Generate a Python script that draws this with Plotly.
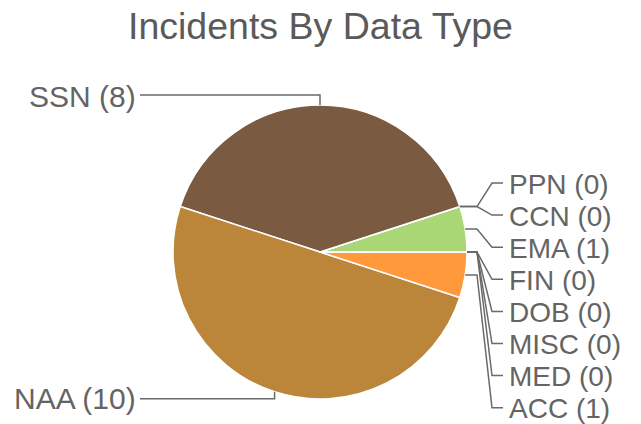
import math
import plotly.graph_objects as go

# ---- data ----
categories = ["EMA", "PPN", "CCN", "SSN", "NAA", "ACC", "FIN", "DOB", "MISC", "MED"]
values = [1, 0, 0, 8, 10, 1, 0, 0, 0, 0]
slice_colors = ["#A9D776", "#A9D776", "#A9D776", "#7A5A41", "#BB863A",
                "#FF993B", "#FF993B", "#FF993B", "#FF993B", "#FF993B"]
title_text = "Incidents By Data Type"

# ---- layout constants (pixels) ----
W, H = 641, 424
CX, CY, R = 320, 252, 147
LINE_COLOR = "#6a6a6a"
TEXT_COLOR = "#646464"
FONT = "Liberation Sans, Arial, sans-serif"
RIGHT_TOP, RIGHT_STEP = 183, 32.1
ELBOW_X, SLANT_X, TICK_X, RLABEL_X = 477, 492, 503, 507
LEFT_END_X, LLABEL_X = 140, 138


def px(x):
    return x / W


def py(y):
    return 1 - y / H


total = sum(values)
# plotly counterclockwise pies end the first slice at the rotation angle;
# shift so the first slice starts at 3 o'clock
rotation = 90 - values[0] / total * 360.0

fig = go.Figure()
fig.add_trace(go.Pie(
    labels=categories, values=values, sort=False,
    direction="counterclockwise", rotation=rotation,
    marker=dict(colors=slice_colors, line=dict(color="white", width=1.5)),
    textinfo="none", hoverinfo="label+value",
    domain=dict(x=[px(CX - R), px(CX + R)], y=[py(CY + R), py(CY - R)]),
    showlegend=False,
))

# slice mid angles (math angle, counter-clockwise from 3 o'clock)
start = 0.0
mids = []
for v in values:
    span = v / total * 360.0
    mids.append(start + span / 2)
    start += span

right, left = [], []
for name, v, a in zip(categories, values, mids):
    ar = math.radians(a)
    p = (CX + R * math.cos(ar), CY - R * math.sin(ar))
    (right if math.cos(ar) > 1e-9 else left).append((name, v, a, p))


def right_key(item):
    a = item[2] % 360
    return -(a if a <= 180 else a - 360)


right.sort(key=right_key)
shapes = []
annotations = []
for i, (name, v, a, p) in enumerate(right):
    ly = RIGHT_TOP + i * RIGHT_STEP
    path = (f"M {px(p[0])},{py(p[1])} L {px(ELBOW_X)},{py(p[1])} "
            f"L {px(SLANT_X)},{py(ly)} L {px(TICK_X)},{py(ly)}")
    shapes.append(dict(type="path", xref="paper", yref="paper", path=path,
                       line=dict(color=LINE_COLOR, width=1.5)))
    annotations.append(dict(x=px(RLABEL_X), y=py(ly + 1), xref="paper", yref="paper",
                            text=f"{name} ({v})", showarrow=False,
                            xanchor="left", yanchor="middle",
                            font=dict(size=28, color=TEXT_COLOR, family=FONT)))

for name, v, a, p in left:
    upper = math.sin(math.radians(a)) > 0
    ly = p[1] - 10 if upper else p[1] + 7
    path = f"M {px(p[0])},{py(p[1])} L {px(p[0])},{py(ly)} L {px(LEFT_END_X)},{py(ly)}"
    shapes.append(dict(type="path", xref="paper", yref="paper", path=path,
                       line=dict(color=LINE_COLOR, width=1.5)))
    annotations.append(dict(x=px(LLABEL_X), y=py(ly + (2 if upper else 0)), xref="paper",
                            yref="paper", text=f"{name} ({v})", showarrow=False,
                            xanchor="right", yanchor="middle",
                            font=dict(size=30, color=TEXT_COLOR, family=FONT)))

annotations.append(dict(x=px(320), y=py(26), xref="paper", yref="paper",
                        text=title_text, showarrow=False,
                        xanchor="center", yanchor="middle",
                        font=dict(size=37.5, color="#5a5a5a", family=FONT)))

fig.update_layout(
    width=W, height=H, margin=dict(l=0, r=0, t=0, b=0),
    paper_bgcolor="white", plot_bgcolor="white",
    shapes=shapes, annotations=annotations,
)
fig.write_html("out.html", config={"displayModeBar": False},
               post_script="document.body.style.margin='0';")
